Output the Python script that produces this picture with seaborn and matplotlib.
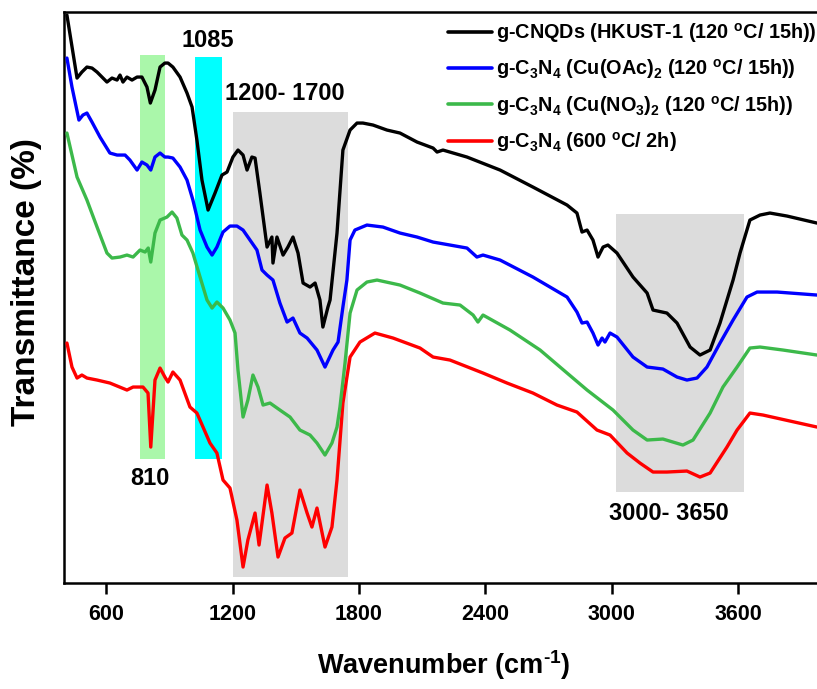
import pandas as pd
import matplotlib
matplotlib.use("Agg")
import matplotlib.pyplot as plt
import seaborn as sns

# FTIR spectra: wavenumber (cm-1) and stacked transmittance (a.u.)
cnqds_wn = [414, 462, 485, 509, 533, 557, 604, 628, 652, 666, 680, 699, 723, 747, 770,
            794, 810, 832, 856, 879, 894, 917, 951, 984, 1008, 1031, 1055, 1084, 1117,
            1150, 1174, 1202, 1226, 1250, 1269, 1292, 1307, 1330, 1364, 1387, 1392, 1411,
            1440, 1463, 1487, 1511, 1535, 1568, 1592, 1615, 1629, 1653, 1663, 1696, 1724,
            1758, 1791, 1819, 1867, 1933, 1995, 2076, 2152, 2171, 2199, 2313, 2470, 2626,
            2788, 2835, 2859, 2883, 2911, 2935, 2959, 2982, 3025, 3101, 3168, 3196, 3262,
            3310, 3372, 3419, 3467, 3514, 3576, 3609, 3656, 3704, 3751, 3832, 3974]
cnqds_t = [568, 505, 511, 516, 515, 511, 501, 505, 503, 508, 501, 506, 503, 506, 506,
           496, 480, 493, 516, 520, 520, 516, 506, 490, 476, 443, 403, 373, 390,
           408, 411, 426, 433, 428, 413, 426, 425, 390, 336, 346, 320, 346,
           328, 336, 346, 330, 300, 296, 300, 283, 256, 276, 283, 350, 433,
           453, 460, 460, 458, 453, 450, 441, 435, 431, 433, 426, 413, 396,
           378, 370, 351, 353, 343, 326, 336, 338, 330, 306, 290, 273, 270,
           260, 236, 228, 233, 260, 303, 330, 363, 368, 370, 367, 360]

oac_wn = [414, 438, 471, 490, 509, 533, 571, 618, 652, 690, 713, 747, 770, 794, 812,
          832, 856, 879, 894, 917, 951, 984, 1012, 1046, 1079, 1103, 1126, 1155, 1188,
          1221, 1250, 1283, 1316, 1340, 1364, 1392, 1425, 1459, 1487, 1520, 1554, 1601,
          1639, 1677, 1701, 1724, 1743, 1758, 1781, 1838, 1914, 1995, 2076, 2152, 2313,
          2360, 2389, 2470, 2626, 2788, 2835, 2859, 2883, 2911, 2935, 2954, 2968, 2992,
          3025, 3101, 3168, 3243, 3310, 3357, 3405, 3452, 3514, 3576, 3642, 3690, 3785, 3974]
oac_t = [525, 496, 463, 468, 470, 461, 446, 430, 428, 428, 423, 413, 421, 418, 413,
         426, 430, 426, 426, 425, 416, 403, 383, 353, 336, 328, 336, 351, 357,
         357, 353, 343, 333, 313, 308, 303, 280, 261, 265, 250, 245, 233,
         216, 233, 241, 276, 303, 343, 353, 358, 356, 350, 346, 341, 335,
         326, 328, 323, 306, 286, 271, 260, 261, 250, 238, 245, 241, 250,
         246, 226, 216, 214, 206, 203, 205, 216, 240, 263, 286, 291, 291, 288]

no3_wn = [414, 462, 509, 557, 604, 628, 666, 699, 728, 761, 785, 800, 812, 832, 856,
          889, 913, 936, 960, 984, 1012, 1046, 1079, 1103, 1126, 1155, 1188, 1212, 1226,
          1250, 1273, 1297, 1321, 1345, 1378, 1425, 1473, 1520, 1568, 1601, 1639, 1672,
          1696, 1710, 1734, 1758, 1791, 1838, 1886, 1995, 2090, 2199, 2280, 2342, 2365,
          2389, 2517, 2660, 2788, 2883, 3006, 3101, 3168, 3243, 3338, 3386, 3467, 3528,
          3595, 3656, 3704, 3813, 3974]
no3_t = [450, 406, 383, 356, 330, 325, 326, 328, 326, 333, 331, 335, 321, 350, 363,
         366, 371, 365, 348, 343, 330, 306, 283, 275, 281, 275, 263, 250, 213,
         166, 183, 208, 196, 178, 180, 173, 166, 153, 148, 140, 128, 140,
         156, 176, 220, 270, 293, 301, 303, 298, 290, 280, 278, 268, 261,
         268, 253, 233, 210, 193, 173, 153, 143, 144, 138, 143, 170, 196,
         216, 235, 236, 233, 228]

bulk_wn = [414, 438, 462, 485, 509, 557, 618, 699, 728, 775, 799, 812, 832, 856, 879,
           894, 917, 951, 998, 1031, 1060, 1093, 1126, 1155, 1188, 1221, 1250, 1273, 1307,
           1326, 1364, 1387, 1416, 1449, 1482, 1520, 1554, 1577, 1601, 1639, 1672, 1696,
           1724, 1758, 1805, 1876, 1962, 2090, 2152, 2232, 2389, 2503, 2626, 2740, 2835,
           2930, 2992, 3073, 3134, 3196, 3262, 3357, 3419, 3467, 3547, 3595, 3656, 3718, 3974]
bulk_t = [240, 216, 205, 208, 205, 203, 200, 193, 196, 196, 190, 136, 203, 215, 206,
          201, 211, 203, 176, 170, 156, 140, 130, 103, 95, 63, 16, 43, 70,
          38, 98, 70, 26, 45, 50, 93, 70, 56, 75, 36, 56, 103,
          180, 226, 241, 250, 245, 235, 226, 223, 210, 200, 190, 178, 171,
          153, 148, 130, 120, 111, 111, 112, 106, 110, 136, 153, 170, 168, 156]

labels = [
    "g-CNQDs (HKUST-1 (120 $^{\\mathrm{o}}$C/ 15h))",
    "g-C$_3$N$_4$ (Cu(OAc)$_2$ (120 $^{\\mathrm{o}}$C/ 15h))",
    "g-C$_3$N$_4$ (Cu(NO$_3$)$_2$ (120 $^{\\mathrm{o}}$C/ 15h))",
    "g-C$_3$N$_4$ (600 $^{\\mathrm{o}}$C/ 2h)",
]
colors = ["#000000", "#0000ff", "#3cb94a", "#ff0000"]

# highlighted absorption regions: (start, end, bottom, top, colour)
band_lo = [760, 1020, 1200, 3020]
band_hi = [880, 1150, 1750, 3630]
band_bottom = [124, 124, 6, 91]
band_top = [528, 526, 471, 369]
band_colors = ["#aaf7aa", "#00ffff", "#dcdcdc", "#dcdcdc"]

# band labels
note_text = ["1085", "1200- 1700", "810", "3000- 3650"]
note_wn = [1084, 1447, 810, 3272]
note_t = [543, 490, 105, 70]

xticks = [600, 1200, 1800, 2400, 3000, 3600]

sns.set_theme(style="ticks")
plt.rcParams["font.family"] = ["Liberation Sans", "DejaVu Sans"]
plt.rcParams["font.weight"] = "bold"
plt.rcParams["text.color"] = "black"
plt.rcParams["axes.labelcolor"] = "black"
plt.rcParams["xtick.color"] = "black"
plt.rcParams["xtick.labelcolor"] = "black"
plt.rcParams["mathtext.fontset"] = "custom"
plt.rcParams["mathtext.rm"] = "Liberation Sans:bold"
plt.rcParams["mathtext.it"] = "Liberation Sans:bold"
plt.rcParams["mathtext.bf"] = "Liberation Sans:bold"
plt.rcParams["mathtext.default"] = "rm"

frames = []
for name, wn, t in [(labels[3], bulk_wn, bulk_t), (labels[2], no3_wn, no3_t),
                    (labels[1], oac_wn, oac_t), (labels[0], cnqds_wn, cnqds_t)]:
    frames.append(pd.DataFrame({"wn": wn, "t": t, "sample": name}))
df = pd.concat(frames, ignore_index=True)

fig = plt.figure(figsize=(8.17, 6.89), dpi=100)
ax = fig.add_axes([0.0783, 0.1538, 0.9283, 0.8287])

for lo, hi, b, tp, c in zip(band_lo, band_hi, band_bottom, band_top, band_colors):
    ax.fill_between([lo, hi], [b, b], [tp, tp], color=c, lw=0, zorder=0)

palette = {lab: col for lab, col in zip(labels, colors)}
sns.lineplot(data=df, x="wn", y="t", hue="sample", hue_order=labels[::-1],
             palette=palette, estimator=None, sort=False, lw=2.4, ax=ax, legend=True,
             zorder=3)

handles, labs = ax.get_legend_handles_labels()
hmap = dict(zip(labs, handles))
leg = ax.legend([hmap[l] for l in labels], labels, loc="upper left",
                bbox_to_anchor=(448 / 817, 1 - 21 / 689), bbox_transform=fig.transFigure,
                frameon=False, fontsize=14.3, handlelength=2.2, handletextpad=0.2,
                labelspacing=0.62, borderpad=0, borderaxespad=0)
for ln in leg.get_lines():
    ln.set_linewidth(2.6)
for t in leg.get_texts():
    t.set_color("black")

for txt, x, y in zip(note_text, note_wn, note_t):
    ax.text(x, y, txt, ha="center", va="center", fontsize=17, fontweight="bold",
            color="black")

ax.set_xlim(400, 4000)
ax.set_ylim(0, 571)
ax.set_yticks([])
ax.set_xticks(xticks)
ax.set_xticklabels([str(v) for v in xticks])
for lbl in ax.get_xticklabels():
    lbl.set_fontweight("bold")
    lbl.set_fontsize(15.5)
    lbl.set_color("black")
ax.tick_params(axis="x", direction="out", length=8, width=1.8, pad=7, colors="black")

for side in ["left", "bottom", "top", "right"]:
    ax.spines[side].set_linewidth(1.8)
    ax.spines[side].set_color("black")

ax.set_xlabel("Wavenumber (cm$^{\u2010\\mathrm{1}}$)", fontsize=19.5, fontweight="bold",
              va="center", color="black")
ax.xaxis.set_label_coords(0.501, -0.143)
ax.set_ylabel("Transmittance (%)", fontsize=24, fontweight="bold", va="center",
              color="black")
ax.yaxis.set_label_coords(-0.049, 0.527)

fig.savefig("out.png", dpi=100, facecolor="white")
